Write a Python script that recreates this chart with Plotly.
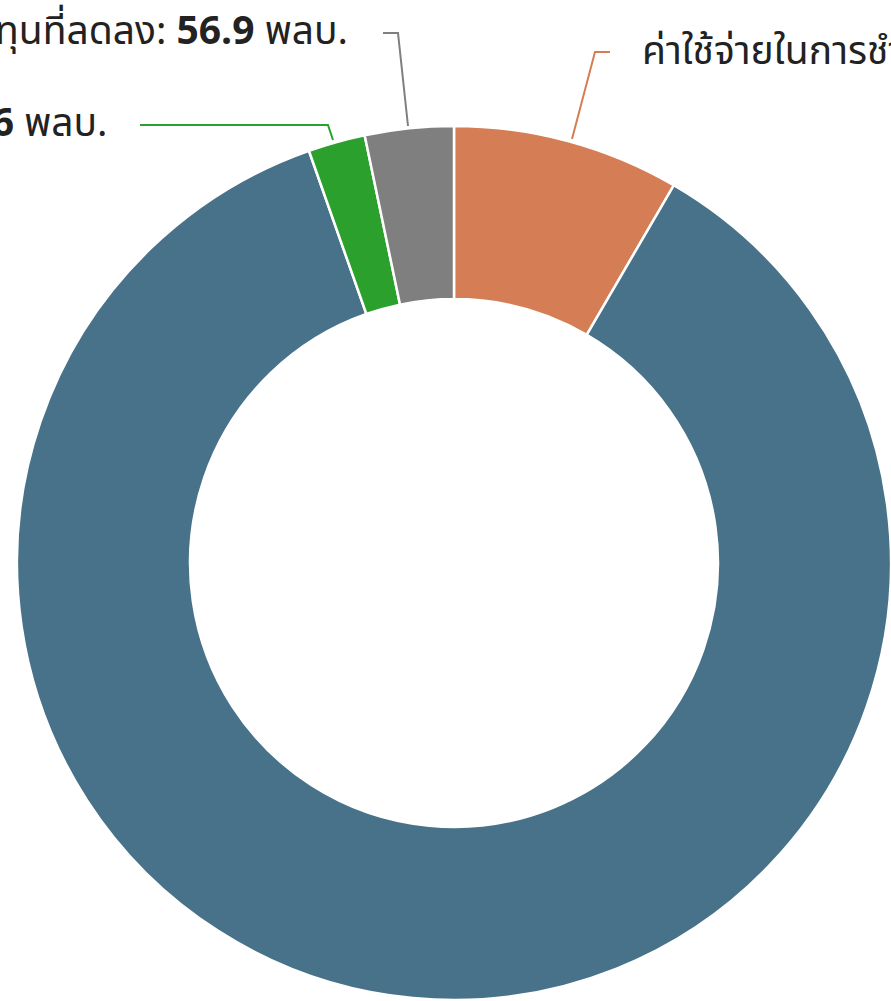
import plotly.graph_objects as go

W, H = 891, 1001

categories = ["ค่าใช้จ่ายในการชำระหนี้", "รายจ่ายประจำ", "รายจ่ายชดใช้เงินคงคลัง", "รายได้จากการลงทุนที่ลดลง"]
values = [145.6, 1497.0, 36.6, 56.9]
colors = ["#D57D55", "#477289", "#2CA02C", "#7F7F7F"]

fig = go.Figure()
fig.add_trace(go.Pie(
    labels=categories,
    values=values,
    sort=False,
    direction="clockwise",
    rotation=0,
    hole=0.604,
    marker=dict(colors=colors, line=dict(color="white", width=2.5)),
    textinfo="none",
    hoverinfo="label+value",
    showlegend=False,
    domain=dict(x=[17 / W, 1.0], y=[0, 876 / H]),
))

def px(x):
    return x / W

def py(y):
    return 1 - y / H

font = dict(family="Noto Sans Thai, Noto Sans, sans-serif", size=39, color="#222222")

# leader lines (pixel coordinates converted to paper)
leaders = [
    ([(572, 139), (595, 52), (610, 52)], colors[0]),
    ([(408, 126), (398, 33), (383, 33)], colors[3]),
    ([(333, 140), (328, 125), (140, 125)], colors[2]),
]
for pts, c in leaders:
    path = "M " + " L ".join(f"{px(x)},{py(y)}" for x, y in pts)
    fig.add_shape(type="path", path=path, xref="paper", yref="paper",
                  line=dict(color=c, width=2))

fig.add_annotation(x=px(640), y=py(52), xref="paper", yref="paper",
                   text=f"{categories[0]}: <b>{values[0]}</b> พลบ.",
                   xanchor="left", yanchor="middle", showarrow=False, font=font)
fig.add_annotation(x=px(350), y=py(33), xref="paper", yref="paper",
                   text=f"{categories[3]}: <b>{values[3]}</b> พลบ.",
                   xanchor="right", yanchor="middle", showarrow=False, font=font)
fig.add_annotation(x=px(110), y=py(125), xref="paper", yref="paper",
                   text=f"{categories[2]}: <b>{values[2]}</b> พลบ.",
                   xanchor="right", yanchor="middle", showarrow=False, font=font)

fig.update_layout(
    width=W, height=H,
    margin=dict(l=0, r=0, t=0, b=0),
    paper_bgcolor="white",
    plot_bgcolor="white",
)

fig.write_html("out.html")
